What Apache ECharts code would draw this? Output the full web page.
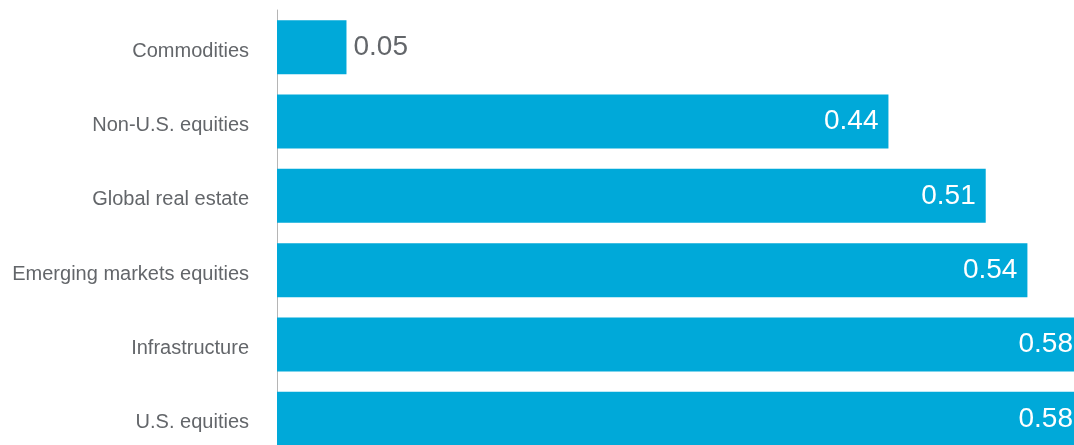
<!DOCTYPE html>
<html>
<head>
<meta charset="utf-8">
<script src="https://cdn.jsdelivr.net/npm/echarts@6/dist/echarts.min.js"></script>
<style>
html,body{margin:0;padding:0;background:#fff;overflow:hidden;width:1074px;height:445px;}
#chart{width:1090px;height:458px;}
</style>
</head>
<body>
<div id="chart"></div>
<script>
var categories = ['Commodities', 'Non-U.S. equities', 'Global real estate', 'Emerging markets equities', 'Infrastructure', 'U.S. equities'];
var values = [0.05, 0.44, 0.51, 0.54, 0.58, 0.58];
var outsideThreshold = 0.1;

var barColor = '#00a9d9';
var textGray = '#63666a';
var fontFamily = '"Liberation Sans", Arial, sans-serif';

var seriesData = values.map(function (v) {
  var outside = v < outsideThreshold;
  return {
    value: v,
    label: {
      position: outside ? 'right' : 'insideRight',
      distance: outside ? 7 : 10,
      color: outside ? textGray : '#ffffff'
    }
  };
});

var chart = echarts.init(document.getElementById('chart'), null, {renderer: 'canvas'});
chart.setOption({
  animation: false,
  backgroundColor: '#ffffff',
  grid: {left: 277, top: 10, width: 806, height: 446, containLabel: false},
  xAxis: {
    type: 'value', min: 0, max: 0.58,
    show: false,
    splitLine: {show: false}
  },
  yAxis: {
    type: 'category',
    data: categories,
    inverse: true,
    axisLine: {show: true, lineStyle: {color: '#b5b5b5', width: 1}},
    axisTick: {show: false},
    axisLabel: {
      margin: 28,
      formatter: function (v) { return '{c|' + v + '}'; },
      rich: {
        c: {color: textGray, fontSize: 20, fontFamily: fontFamily, padding: [8, 0, 0, 0]}
      }
    }
  },
  series: [{
    type: 'bar',
    data: seriesData,
    barWidth: 54,
    itemStyle: {color: barColor},
    label: {
      show: true,
      fontSize: 28,
      fontFamily: fontFamily,
      formatter: function (p) { return p.value.toFixed(2); }
    }
  }]
});
</script>
</body>
</html>
